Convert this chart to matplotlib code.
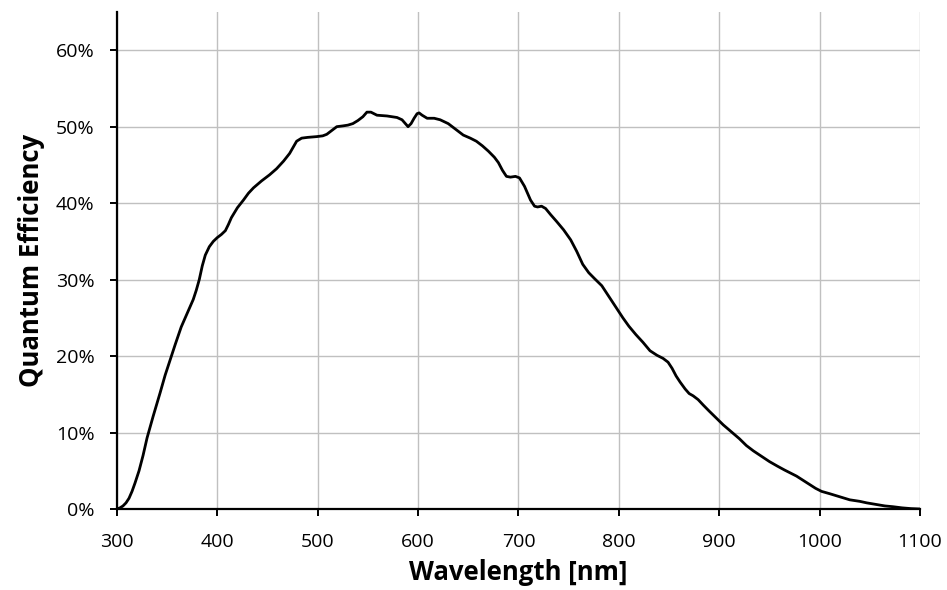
import matplotlib
matplotlib.use("Agg")
import matplotlib.pyplot as plt
from matplotlib.ticker import PercentFormatter

plt.rcParams['font.family'] = ['Open Sans', 'DejaVu Sans']

# wavelength [nm] and quantum efficiency [%]
wavelength = [300, 303, 306, 309, 312, 315, 318, 322, 326, 330, 336, 343, 348,
              353, 358, 364, 370, 376, 379, 382, 385, 388, 392, 396, 400, 404,
              408, 411, 414, 420, 426, 431, 436, 444, 452, 459, 466, 472, 476,
              479, 484, 490, 499, 505, 509, 514, 519, 525, 530, 535, 540, 545,
              549, 553, 559, 569, 579, 584, 588, 590, 593, 596, 599, 601, 604,
              609, 616, 622, 630, 638, 645, 652, 658, 664, 670, 676, 680, 684,
              688, 692, 697, 701, 706, 712, 716, 719, 723, 727, 732, 738, 745,
              752, 758, 764, 770, 776, 783, 790, 797, 804, 810, 817, 824, 831,
              838, 844, 849, 853, 857, 861, 866, 870, 874, 879, 884, 890, 897,
              904, 912, 920, 927, 934, 942, 950, 958, 965, 971, 977, 983, 990,
              996, 1002, 1010, 1020, 1030, 1040, 1047, 1056, 1065, 1073, 1082,
              1091, 1100]
qe = [0.0, 0.15, 0.4, 0.8, 1.4, 2.3, 3.4, 5.0, 7.0, 9.3, 12.1, 15.2, 17.5,
      19.5, 21.5, 23.8, 25.6, 27.4, 28.6, 30.0, 31.8, 33.2, 34.3, 35.0, 35.5,
      35.9, 36.4, 37.2, 38.1, 39.4, 40.4, 41.3, 42.0, 42.9, 43.7, 44.5, 45.5,
      46.5, 47.4, 48.1, 48.5, 48.6, 48.7, 48.8, 49.0, 49.5, 50.0, 50.1, 50.2,
      50.4, 50.8, 51.3, 51.9, 51.9, 51.5, 51.4, 51.2, 50.9, 50.3, 50.0, 50.4,
      51.1, 51.7, 51.8, 51.5, 51.1, 51.1, 50.9, 50.4, 49.6, 48.9, 48.5, 48.1,
      47.5, 46.8, 46.0, 45.3, 44.3, 43.5, 43.4, 43.5, 43.3, 42.2, 40.4, 39.6,
      39.5, 39.6, 39.3, 38.5, 37.6, 36.5, 35.2, 33.7, 32.0, 30.9, 30.1, 29.2,
      27.8, 26.4, 25.0, 23.9, 22.8, 21.8, 20.7, 20.1, 19.7, 19.2, 18.4, 17.4,
      16.6, 15.7, 15.1, 14.8, 14.3, 13.6, 12.8, 11.9, 11.0, 10.1, 9.2, 8.3,
      7.6, 6.9, 6.2, 5.6, 5.1, 4.7, 4.3, 3.8, 3.2, 2.7, 2.3, 2.0, 1.6, 1.2,
      1.0, 0.8, 0.6, 0.4, 0.3, 0.15, 0.05, 0.0]

x_ticks = [300, 400, 500, 600, 700, 800, 900, 1000, 1100]
y_ticks = [0, 10, 20, 30, 40, 50, 60]

fig = plt.figure(figsize=(9.47, 5.9), dpi=100)
ax = fig.add_axes([0.1235, 0.1373, 0.848, 0.8424])

ax.plot(wavelength, qe, color="black", lw=2.0, solid_joinstyle="round",
        solid_capstyle="round")

ax.set_xlim(300, 1100)
ax.set_ylim(0, 65)
ax.set_xticks(x_ticks)
ax.set_yticks(y_ticks)
ax.yaxis.set_major_formatter(PercentFormatter(decimals=0))
ax.grid(True, color="#c0c0c0", lw=1.0)
ax.set_axisbelow(True)

for s in ("top", "right"):
    ax.spines[s].set_visible(False)
for s in ("left", "bottom"):
    ax.spines[s].set_linewidth(1.6)
ax.tick_params(axis="both", direction="out", length=5, width=1.4,
               labelsize=14)
ax.tick_params(axis="x", pad=12)
ax.tick_params(axis="y", pad=11)

ax.set_xlabel("Wavelength [nm]", fontsize=18.5, fontweight="bold", labelpad=6)
ax.set_ylabel("Quantum Efficiency", fontsize=18.5, fontweight="bold", labelpad=8)

fig.savefig("out.png", dpi=100)
